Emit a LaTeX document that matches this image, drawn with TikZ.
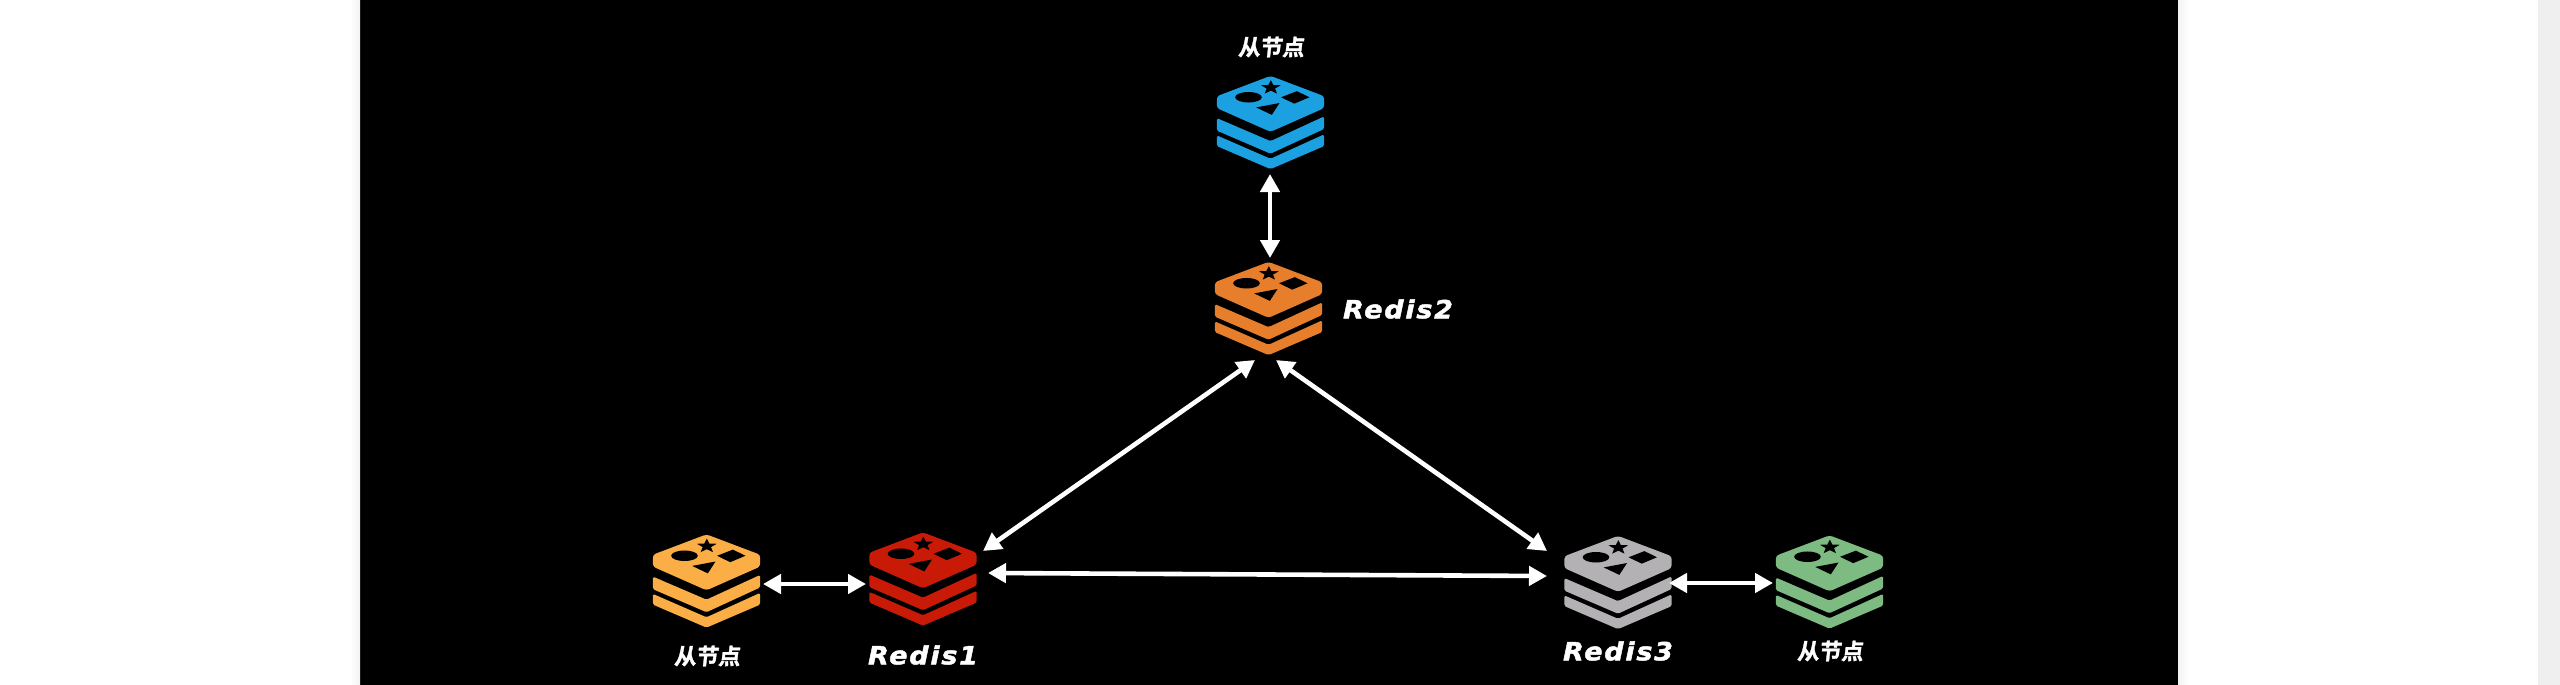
\documentclass[tikz,border=0pt]{standalone}
\usepackage{fontspec}
\setmainfont{DejaVu Sans}
\newfontfamily\latinlabel[LetterSpace=7,FakeBold=1.8,FakeStretch=1.08]{DejaVu Sans}
\newfontfamily\cjklabel[BoldFont={Noto Sans CJK SC Bold},BoldFeatures={FakeSlant=0.12,FakeBold=1.5},FakeSlant=0.12]{Noto Sans CJK SC}
\usetikzlibrary{arrows.meta}
\definecolor{pageGrey}{HTML}{EFEFEF}
\definecolor{iconBlue}{HTML}{1BA1E2}
\definecolor{iconOrange}{HTML}{E67E2C}
\definecolor{iconRed}{HTML}{C91A08}
\definecolor{iconYellow}{HTML}{FBAE45}
\definecolor{iconGrey}{HTML}{B3B1B3}
\definecolor{iconGreen}{HTML}{7DBB82}
\tikzset{
  iconbox/.style={draw=none,fill=none,inner sep=0pt,minimum width=53.5pt,minimum height=46pt},
  link/.style={draw=white,line width=2.3pt,{Triangle[length=9pt,width=9.5pt]}-{Triangle[length=9pt,width=9.5pt]}},
  redislabel/.style={text=white,inner sep=0pt,font=\latinlabel\bfseries\itshape\fontsize{12.5}{14}\selectfont},
  cjktag/.style={text=white,inner sep=0pt,font=\cjklabel\bfseries\fontsize{11}{13}\selectfont},
  redisicon/.pic={
    \begin{scope}[x=0.16667pt,y=0.1695pt]
      \fill[#1,rounded corners=1.5pt] (0,137.5) -- (161,77.5) -- (161,42.5) -- (0,-27.5) -- (-161,42.5) -- (-161,77.5) -- cycle;
      \fill[#1,rounded corners=0.8pt] (-161,13) -- (0,-55) -- (161,18) -- (161,-19) -- (0,-92) -- (-161,-24) -- cycle;
      \fill[#1,rounded corners=0.8pt] (-161,-38) -- (0,-107) -- (161,-35) -- (161,-69.5) -- (0,-137.5) -- (-161,-69.5) -- cycle;
      \fill[black] (-66,74.5) ellipse [x radius=40,y radius=15.5];
      \fill[black] (32,74.5) -- (79,92.5) -- (117,74.5) -- (71,55.5) -- cycle;
      \fill[black] (-43,44.5) -- (27,57.5) -- (4,22.5) -- cycle;
      \begin{scope}[shift={(1,103)},xscale=0.95,yscale=0.78]
        \fill[black] (0,28) -- (8.1,9.5) -- (31.4,8.7) -- (13.2,-3.6) -- (19.4,-22.7) -- (0,-11.8) -- (-19.4,-22.7) -- (-13.2,-3.6) -- (-31.4,8.7) -- (-8.1,9.5) -- cycle;
      \end{scope}
    \end{scope}
  }
}
\begin{document}
\begin{tikzpicture}[x=0.5pt,y=-0.5pt]
  \useasboundingbox (0,0) rectangle (2560,685);
  \fill[white] (0,0) rectangle (2560,685);
  \fill[pageGrey] (2538,0) rectangle (2560,685);
  \fill[black] (360,0) rectangle (2178,685);
  \shade[left color=white,right color=black!5] (350,0) rectangle (360,685);
  \shade[left color=black!5,right color=white] (2178,0) rectangle (2188,685);

  \node[iconbox] (blueIcon) at (1270.5,122.5) {};
  \node[iconbox] (orangeIcon) at (1268.5,308.5) {};
  \node[iconbox] (redIcon) at (923,579) {};
  \node[iconbox] (yellowIcon) at (706.5,581) {};
  \node[iconbox] (greyIcon) at (1618,582.5) {};
  \node[iconbox] (greenIcon) at (1829.5,582) {};

  \pic at (blueIcon.center) {redisicon=iconBlue};
  \pic at (orangeIcon.center) {redisicon=iconOrange};
  \pic at (redIcon.center) {redisicon=iconRed};
  \pic at (yellowIcon.center) {redisicon=iconYellow};
  \pic at (greyIcon.center) {redisicon=iconGrey};
  \pic at (greenIcon.center) {redisicon=iconGreen};

  \path[link] ([shift={(-0.5,51.5)}]blueIcon.center) -- ([shift={(1.5,-50.5)}]orangeIcon.center);
  \path[link] ([shift={(-13.5,51.5)}]orangeIcon.center) -- ([shift={(60,-28)}]redIcon.center);
  \path[link] ([shift={(7.5,51.5)}]orangeIcon.center) -- ([shift={(-71,-31.5)}]greyIcon.center);
  \path[link] ([shift={(65,-6)}]redIcon.center) -- ([shift={(-71,-6.5)}]greyIcon.center);
  \path[link] ([shift={(56.5,3)}]yellowIcon.center) -- ([shift={(-57,5)}]redIcon.center);
  \path[link] ([shift={(51,0.5)}]greyIcon.center) -- ([shift={(-56.5,1)}]greenIcon.center);

  \node[cjktag] (tagTop) at (1271,47) {从节点};
  \node[cjktag] (tagLeft) at (707,656) {从节点};
  \node[cjktag] (tagRight) at (1830,651) {从节点};
  \node[redislabel] (labelOne) at (923,655) {Redis1};
  \node[redislabel] (labelTwo) at (1398,309) {Redis2};
  \node[redislabel] (labelThree) at (1618,651) {Redis3};
\end{tikzpicture}
\end{document}
